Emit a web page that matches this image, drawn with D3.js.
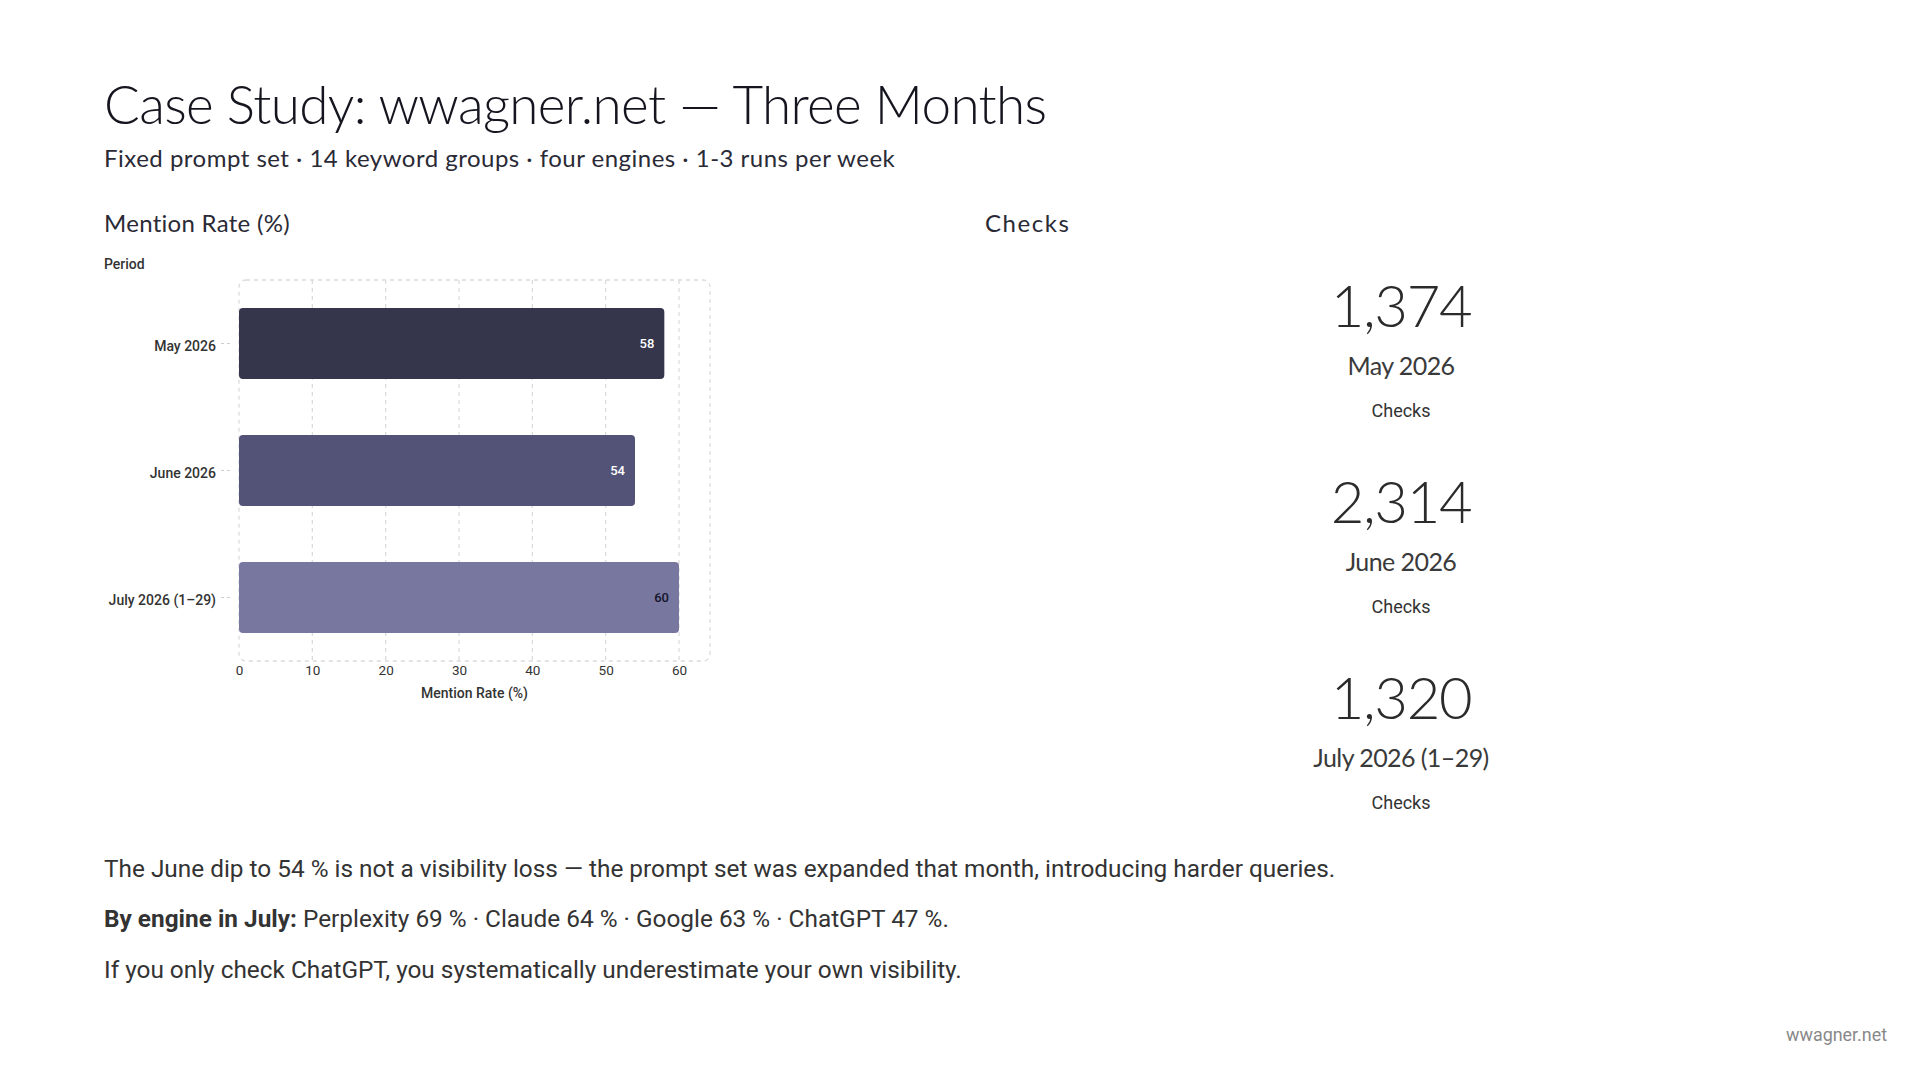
<!DOCTYPE html>
<html>
<head>
<meta charset="utf-8">
<script src="https://cdn.jsdelivr.net/npm/d3@7/dist/d3.min.js"></script>
<style>
  html, body { margin: 0; padding: 0; background: #fff; }
  svg { display: block; }
</style>
</head>
<body>
<svg id="chart" width="1920" height="1080"></svg>
<script>
// ---- data ----
const periods = ["May 2026", "June 2026", "July 2026 (1–29)"];
const mentionRates = [58, 54, 60];
const checksCounts = [1374, 2314, 1320];
const xTicks = [0, 10, 20, 30, 40, 50, 60];
const barColors = ["#35354b", "#535378", "#7877a0"];
const labelColors = ["#ffffff", "#ffffff", "#14142a"];
const titleText = "Case Study: wwagner.net — Three Months";
const subtitleText = "Fixed prompt set · 14 keyword groups · four engines · 1-3 runs per week";
const footLine1 = "The June dip to 54 % is not a visibility loss — the prompt set was expanded that month, introducing harder queries.";
const footLine2Bold = "By engine in July:";
const footLine2 = " Perplexity 69 % · Claude 64 % · Google 63 % · ChatGPT 47 %.";
const footLine3 = "If you only check ChatGPT, you systematically underestimate your own visibility.";

const svg = d3.select("#chart");
svg.append("rect").attr("width", 1920).attr("height", 1080).attr("fill", "#fff");

const RALE = "Lato, 'Open Sans', sans-serif";
const ROBO = "Roboto, 'Noto Sans', sans-serif";

// fit width by adjusting letter-spacing
function fitSpacing(sel, target) {
  sel.attr("letter-spacing", 0);
  const t = sel.text();
  const len = sel.node().getComputedTextLength();
  const ls = (target - len) / Math.max(1, t.length - 1);
  sel.attr("letter-spacing", ls.toFixed(2));
}
function fitSize(sel, target) {
  const len = sel.node().getComputedTextLength();
  const fs = parseFloat(sel.attr("font-size"));
  sel.attr("font-size", (fs * target / len).toFixed(2));
}

// ---- header ----
const title = svg.append("text").attr("x", 104).attr("y", 124)
  .attr("font-family", RALE).attr("font-size", 53).attr("font-weight", 300)
  .attr("fill", "#15151f").text(titleText);
fitSpacing(title, 943);

const sub = svg.append("text").attr("x", 104).attr("y", 167)
  .attr("font-family", RALE).attr("font-size", 24).attr("font-weight", 400)
  .attr("fill", "#2a2a36").text(subtitleText);
fitSpacing(sub, 791);

const h1 = svg.append("text").attr("x", 104).attr("y", 232)
  .attr("font-family", RALE).attr("font-size", 24).attr("font-weight", 400)
  .attr("fill", "#2a2a36").text("Mention Rate (%)");
fitSpacing(h1, 186);
const h2 = svg.append("text").attr("x", 985).attr("y", 232)
  .attr("font-family", RALE).attr("font-size", 24).attr("font-weight", 400)
  .attr("fill", "#2a2a36").text("Checks");
fitSpacing(h2, 84);

// ---- bar chart ----
const plot = { left: 239, top: 280, width: 471, height: 381 };
const x = d3.scaleLinear().domain([0, 60]).range([plot.left, plot.left + 440]);
const y = d3.scaleBand().domain(periods).range([plot.top, plot.top + plot.height])
  .paddingInner(0.44).paddingOuter(0.22);

const g = svg.append("g");

// frame
g.append("rect")
  .attr("x", plot.left).attr("y", plot.top)
  .attr("width", plot.width).attr("height", plot.height)
  .attr("rx", 7).attr("ry", 7)
  .attr("fill", "none").attr("stroke", "#dcdcdc").attr("stroke-width", 1.3)
  .attr("stroke-dasharray", "4,4");

// gridlines
g.append("g").selectAll("line").data(xTicks.filter(d => d > 0)).join("line")
  .attr("x1", d => x(d)).attr("x2", d => x(d))
  .attr("y1", plot.top).attr("y2", plot.top + plot.height)
  .attr("stroke", "#dcdcdc").attr("stroke-width", 1.3).attr("stroke-dasharray", "4,4");

// x axis
const xAxis = g.append("g").attr("transform", `translate(0,${plot.top + plot.height})`)
  .call(d3.axisBottom(x).tickValues(xTicks).tickSize(0).tickPadding(4));
xAxis.select(".domain").remove();
xAxis.selectAll("text").attr("font-family", ROBO).attr("font-size", 13.5)
  .attr("fill", "#333").attr("font-weight", 400);

g.append("text").attr("x", plot.left + plot.width / 2).attr("y", 698)
  .attr("text-anchor", "middle").attr("font-family", ROBO).attr("font-size", 14)
  .attr("font-weight", 500).attr("fill", "#333").text("Mention Rate (%)");

// y axis
const yAxis = g.append("g").attr("transform", `translate(${plot.left - 9},0)`)
  .call(d3.axisLeft(y).tickSize(10).tickPadding(4));
yAxis.select(".domain").remove();
yAxis.selectAll(".tick line").attr("stroke", "#cfcfcf").attr("stroke-dasharray", "3,3");
yAxis.selectAll("text").attr("font-family", ROBO).attr("font-size", 14)
  .attr("font-weight", 500).attr("fill", "#333").attr("dy", "0.55em");

g.append("text").attr("x", 104).attr("y", 269)
  .attr("font-family", ROBO).attr("font-size", 14).attr("font-weight", 500)
  .attr("fill", "#333").text("Period");

// bars
g.append("g").selectAll("rect").data(periods).join("rect")
  .attr("x", x(0)).attr("y", d => y(d))
  .attr("width", (d, i) => x(mentionRates[i]) - x(0))
  .attr("height", y.bandwidth())
  .attr("rx", 4).attr("ry", 4)
  .attr("fill", (d, i) => barColors[i]);

g.append("g").selectAll("text").data(periods).join("text")
  .attr("x", (d, i) => x(mentionRates[i]) - 10)
  .attr("y", d => y(d) + y.bandwidth() / 2)
  .attr("dy", "0.35em").attr("text-anchor", "end")
  .attr("font-family", ROBO).attr("font-size", 13).attr("font-weight", 500)
  .attr("fill", (d, i) => labelColors[i])
  .text((d, i) => mentionRates[i]);

// ---- stat cards ----
const sy = d3.scaleBand().domain(periods).range([262, 850]);
const cx = 1401;
const fmt = d3.format(",");
const stats = svg.append("g").selectAll("g").data(periods).join("g")
  .attr("transform", d => `translate(${cx},${sy(d)})`);

stats.append("text").attr("y", 65).attr("text-anchor", "middle")
  .attr("font-family", RALE).attr("font-size", 58).attr("font-weight", 300)
  .attr("fill", "#2b2b2b").text((d, i) => fmt(checksCounts[i]))
  .each(function() { fitSpacing(d3.select(this), 142); });

stats.append("text").attr("y", 113).attr("text-anchor", "middle")
  .attr("font-family", RALE).attr("font-size", 25).attr("font-weight", 400)
  .attr("fill", "#3a3a3a").text(d => d);
// consistent spacing for date labels, derived from longest label
{
  const s = stats.selectAll("text:nth-of-type(2)");
  const last = d3.select(s.nodes()[2]);
  fitSpacing(last, 176);
  const ls = last.attr("letter-spacing");
  s.attr("letter-spacing", ls);
}

stats.append("text").attr("y", 155).attr("text-anchor", "middle")
  .attr("font-family", ROBO).attr("font-size", 18).attr("font-weight", 400)
  .attr("fill", "#333").text("Checks");

// ---- footer text ----
const f1 = svg.append("text").attr("x", 104).attr("y", 877)
  .attr("font-family", ROBO).attr("font-size", 22).attr("fill", "#333").text(footLine1);
fitSize(f1, 1232);
const fs = f1.attr("font-size");

const f2 = svg.append("text").attr("x", 104).attr("y", 927)
  .attr("font-family", ROBO).attr("font-size", fs).attr("fill", "#333");
f2.append("tspan").attr("font-weight", 700).text(footLine2Bold);
f2.append("tspan").text(footLine2);

svg.append("text").attr("x", 104).attr("y", 978)
  .attr("font-family", ROBO).attr("font-size", fs).attr("fill", "#333").text(footLine3);

const wm = svg.append("text").attr("x", 1887).attr("y", 1041).attr("text-anchor", "end")
  .attr("font-family", ROBO).attr("font-size", 16).attr("fill", "#888").text("wwagner.net");
fitSize(wm, 101);
</script>
</body>
</html>
